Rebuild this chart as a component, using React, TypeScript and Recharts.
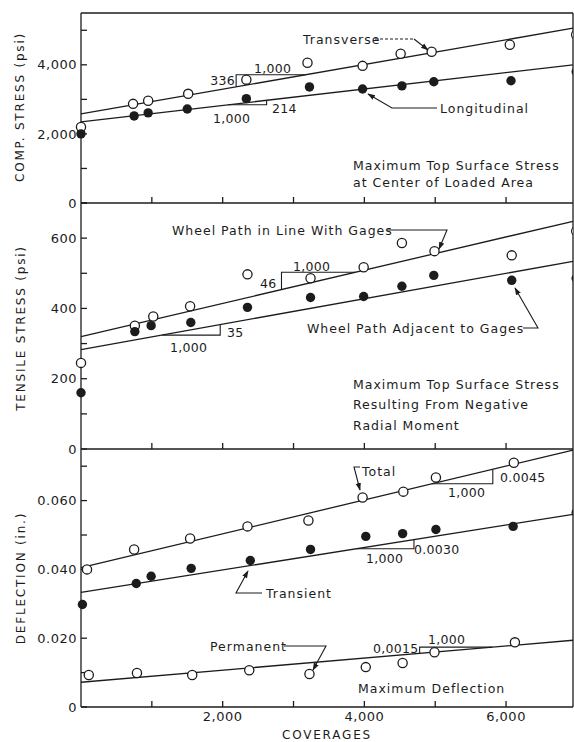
import React from 'react'
import { ComposedChart, Scatter, Line, XAxis, YAxis } from 'recharts'

const INK = '#1c1c1c'
const FONT = '"DejaVu Sans", sans-serif'

// shared x axis (coverages)
const X_TICKS = [1000, 2000, 3000, 4000, 5000, 6000]
const X_TICK_LABELS = ['', '2,000', '', '4,000', '', '6,000']
const EDGE_COVERAGE = [6990]
const FIT_COVERAGE = [0, 6945]

// panel 1 - compressive stress (psi)
const COMP_TICKS = [0, 1000, 2000, 3000, 4000, 5000]
const COMP_TICK_LABELS = ['0', '', '2,000', '', '4,000', '']
const transverseCoverage = [0, 735, 948, 1513, 2334, 3197, 3975, 4512, 4950, 6053]
const transverseStress = [2200, 2870, 2960, 3160, 3570, 4060, 3970, 4320, 4380, 4580]
const longitudinalCoverage = [0, 750, 948, 1500, 2334, 3225, 3975, 4530, 4980, 6070]
const longitudinalStress = [2000, 2520, 2610, 2720, 3020, 3360, 3300, 3390, 3510, 3540]
const transverseEdge = [4870]
const longitudinalEdge = [3800]
const transverseFit = [2580, 5060]
const longitudinalFit = [2350, 4000]
const transverseSlopeX = [2190, 2190, 3168]
const transverseSlopeY = [3362, 3711, 3711]
const longitudinalSlopeX = [2080, 2620, 2620]
const longitudinalSlopeY = [2844, 2844, 2972]

// panel 2 - tensile stress (psi)
const TENS_TICKS = [0, 100, 200, 300, 400, 500, 600, 700]
const TENS_TICK_LABELS = ['0', '', '200', '', '400', '', '600', '']
const inLineCoverage = [0, 760, 1020, 1540, 2350, 3240, 3990, 4530, 4990, 6080]
const inLineStress = [245, 351, 377, 406, 497, 486, 517, 586, 563, 551]
const adjacentCoverage = [0, 760, 990, 1550, 2350, 3240, 3990, 4530, 4980, 6080]
const adjacentStress = [160, 334, 351, 360, 403, 431, 434, 463, 494, 480]
const inLineEdge = [620]
const adjacentEdge = [486]
const inLineFit = [320, 648]
const adjacentFit = [283, 534]
const inLineSlopeX = [2830, 2830, 3875]
const inLineSlopeY = [454, 503, 503]
const adjacentSlopeX = [1146, 1965, 1965]
const adjacentSlopeY = [324, 324, 354]

// panel 3 - deflection (in.)
const DEFL_TICKS = [0, 0.01, 0.02, 0.03, 0.04, 0.05, 0.06, 0.07]
const DEFL_TICK_LABELS = ['0', '', '0.020', '', '0.040', '', '0.060', '']
const totalCoverage = [85, 750, 1540, 2350, 3210, 3975, 4550, 5010, 6110]
const totalDefl = [0.04, 0.0458, 0.049, 0.0525, 0.0542, 0.0609, 0.0626, 0.0667, 0.071]
const transientCoverage = [20, 780, 990, 1555, 2390, 3240, 4020, 4540, 5010, 6100]
const transientDefl = [0.0298, 0.0359, 0.038, 0.0403, 0.0426, 0.0458, 0.0496, 0.0504, 0.0516, 0.0525]
const permanentCoverage = [110, 790, 1570, 2375, 3225, 4020, 4540, 4990, 6125]
const permanentDefl = [0.0093, 0.0099, 0.0093, 0.0107, 0.0096, 0.0116, 0.0128, 0.0159, 0.0188]
const transientEdge = [0.0565]
const totalFit = [0.0405, 0.0747]
const transientFit = [0.0333, 0.056]
const permanentFit = [0.0072, 0.0194]
const totalSlopeX = [4950, 5813, 5813]
const totalSlopeY = [0.0649, 0.0649, 0.0691]
const transientSlopeX = [3890, 4700, 4700]
const transientSlopeY = [0.046, 0.046, 0.0487]
const permanentSlopeX = [4780, 4780, 5806]
const permanentSlopeY = [0.0156, 0.0174, 0.0174]

const zip = (xs: number[], ys: number[]) => xs.map((x, i) => ({ x, y: ys[i] }))

const DOMAIN_X: [number, number] = [0, 6945]
const AXIS = { stroke: INK, strokeWidth: 1.3 }
const TICK = { fill: INK, fontSize: 13, fontFamily: FONT, letterSpacing: 0.5 }

const openDot = (p: any) => <circle cx={p.cx} cy={p.cy} r={4.6} fill="#fff" stroke={INK} strokeWidth={1.3} />
const fullDot = (p: any) => <circle cx={p.cx} cy={p.cy} r={4.7} fill={INK} />

const fit = (ys: number[], key: string) => (
  <Line key={key} data={zip(FIT_COVERAGE, ys)} dataKey="y" dot={false} activeDot={false}
    stroke={INK} strokeWidth={1.3} isAnimationActive={false} />
)
const slope = (xs: number[], ys: number[], key: string) => (
  <Line key={key} data={zip(xs, ys)} dataKey="y" dot={false} activeDot={false}
    stroke={INK} strokeWidth={1.1} isAnimationActive={false} />
)
const pts = (xs: number[], ys: number[], open: boolean, key: string, edge = false) => (
  <Scatter key={key} data={zip(xs, ys)} dataKey="y" xAxisId={edge ? 'edge' : 0}
    shape={open ? openDot : fullDot} isAnimationActive={false} />
)

function Panel(p: {
  top: number, height: number, mt: number, mb: number, xh: number,
  yDomain: [number, number], yTicks: number[], yLabels: string[],
  topAxis?: boolean, xLabels?: string[], children: React.ReactNode
}) {
  return (
    <div style={{ position: 'absolute', left: 0, top: p.top }}>
      <ComposedChart width={574} height={p.height} margin={{ top: p.mt, right: 0, bottom: p.mb, left: 0 }}>
        <XAxis xAxisId={0} dataKey="x" type="number" domain={DOMAIN_X} ticks={X_TICKS} interval={0}
          height={p.xh} tickSize={-6} tickMargin={11} axisLine={AXIS} tickLine={AXIS} tick={TICK}
          tickFormatter={(_: any, i: number) => (p.xLabels ? p.xLabels[i] : '')} />
        <XAxis xAxisId="edge" dataKey="x" type="number" domain={DOMAIN_X} allowDataOverflow hide />
        {p.topAxis && (
          <XAxis xAxisId="top" orientation="top" type="number" domain={DOMAIN_X} allowDataOverflow
            ticks={X_TICKS} interval={0} height={1} tick={false} tickSize={-6} axisLine={AXIS} tickLine={AXIS} />
        )}
        <YAxis yAxisId={0} dataKey="y" type="number" domain={p.yDomain} ticks={p.yTicks} interval={0}
          width={81} tickSize={-6} tickMargin={10} axisLine={AXIS} tickLine={AXIS} tick={TICK}
          tickFormatter={(_: any, i: number) => p.yLabels[i]} />
        <YAxis yAxisId="right" orientation="right" type="number" domain={p.yDomain} allowDataOverflow
          ticks={p.yTicks} interval={0} width={1} tick={false} tickSize={-6} axisLine={AXIS} tickLine={AXIS} />
        {p.children}
      </ComposedChart>
    </div>
  )
}

const words = { fontSize: 12.5, letterSpacing: 1, fill: INK }
const nums = { fontSize: 12.5, letterSpacing: 0.3, fill: INK }
const caps = { fontSize: 12, letterSpacing: 1.8, fill: INK }

function Notes() {
  const T = (x: number, y: number, s: string, st: any = words, anchor = 'start') => (
    <text x={x} y={y} dominantBaseline="central" textAnchor={anchor} style={st}>{s}</text>
  )
  const L = { fill: 'none', stroke: INK, strokeWidth: 1.1 }
  return (
    <svg width={574} height={742} style={{ position: 'absolute', left: 0, top: 0, pointerEvents: 'none', fontFamily: FONT }}>
      <defs>
        <marker id="arr" viewBox="0 0 10 10" refX="9" refY="5" markerWidth="7" markerHeight="7" orient="auto">
          <path d="M0,1.5 L10,5 L0,8.5 z" fill={INK} />
        </marker>
      </defs>
      {/* axis titles */}
      <text transform="translate(20,107) rotate(-90)" textAnchor="middle" dominantBaseline="central" style={caps}>COMP. STRESS (psi)</text>
      <text transform="translate(21,328) rotate(-90)" textAnchor="middle" dominantBaseline="central" style={caps}>TENSILE STRESS (psi)</text>
      <text transform="translate(21,578) rotate(-90)" textAnchor="middle" dominantBaseline="central" style={caps}>DEFLECTION (in.)</text>
      {T(327, 735, 'COVERAGES', caps, 'middle')}

      {/* panel 1 */}
      {T(303, 39, 'Transverse')}
      <path d="M375,39 H414" {...L} strokeDasharray="3 2" />
      <path d="M414,39 L428,50" {...L} markerEnd="url(#arr)" />
      {T(440, 108, 'Longitudinal')}
      <path d="M437,108 H392 L368,94" {...L} markerEnd="url(#arr)" />
      {T(235, 80, '336', nums, 'end')}
      {T(254, 68, '1,000', nums)}
      {T(272, 108, '214', nums)}
      {T(213, 118, '1,000', nums)}
      {T(353, 165, 'Maximum Top Surface Stress')}
      {T(353, 182, 'at Center of Loaded Area')}

      {/* panel 2 */}
      {T(172, 230, 'Wheel Path in Line With Gages')}
      <path d="M387,230 H447 L439,249" {...L} markerEnd="url(#arr)" />
      {T(307, 328, 'Wheel Path Adjacent to Gages')}
      <path d="M523,328 H538 L515,288" {...L} markerEnd="url(#arr)" />
      {T(260, 283, '46', nums)}
      {T(293, 266, '1,000', nums)}
      {T(227, 332, '35', nums)}
      {T(170, 347, '1,000', nums)}
      {T(353, 384, 'Maximum Top Surface Stress')}
      {T(353, 404, 'Resulting From Negative')}
      {T(353, 425, 'Radial Moment')}

      {/* panel 3 */}
      {T(362, 471, 'Total')}
      <path d="M360,467 H354 L360,490" {...L} markerEnd="url(#arr)" />
      {T(448, 492, '1,000', nums)}
      {T(500, 477, '0.0045', nums)}
      {T(414, 549, '0.0030', nums)}
      {T(366, 558, '1,000', nums)}
      {T(266, 593, 'Transient')}
      <path d="M262,593 H236 L248,571" {...L} markerEnd="url(#arr)" />
      {T(210, 646, 'Permanent')}
      <path d="M284,646 H326 L313,670" {...L} markerEnd="url(#arr)" />
      {T(373, 648, '0,0015', nums)}
      {T(428, 639, '1,000', nums)}
      {T(358, 688, 'Maximum Deflection')}
    </svg>
  )
}

export default function App() {
  return (
    <div style={{ position: 'absolute', left: 0, top: 0, width: 574, height: 742, overflow: 'hidden', background: '#fff', fontFamily: FONT }}>
      <Panel top={0} height={216} mt={12} mb={12} xh={1} yDomain={[0, 5500]} yTicks={COMP_TICKS} yLabels={COMP_TICK_LABELS} topAxis>
        {fit(transverseFit, 'tf')}
        {fit(longitudinalFit, 'lf')}
        {slope(transverseSlopeX, transverseSlopeY, 'ts')}
        {slope(longitudinalSlopeX, longitudinalSlopeY, 'ls')}
        {pts(transverseCoverage, transverseStress, true, 'tp')}
        {pts(longitudinalCoverage, longitudinalStress, false, 'lp')}
        {pts(EDGE_COVERAGE, transverseEdge, true, 'te', true)}
        {pts(EDGE_COVERAGE, longitudinalEdge, false, 'le', true)}
      </Panel>
      <Panel top={195} height={266} mt={8} mb={11} xh={1} yDomain={[0, 700]} yTicks={TENS_TICKS} yLabels={TENS_TICK_LABELS}>
        {fit(inLineFit, 'if')}
        {fit(adjacentFit, 'af')}
        {slope(inLineSlopeX, inLineSlopeY, 'is')}
        {slope(adjacentSlopeX, adjacentSlopeY, 'as')}
        {pts(inLineCoverage, inLineStress, true, 'ip')}
        {pts(adjacentCoverage, adjacentStress, false, 'ap')}
        {pts(EDGE_COVERAGE, inLineEdge, true, 'ie', true)}
        {pts(EDGE_COVERAGE, adjacentEdge, false, 'ae', true)}
      </Panel>
      <Panel top={441} height={301} mt={8} mb={0} xh={35} yDomain={[0, 0.075]} yTicks={DEFL_TICKS} yLabels={DEFL_TICK_LABELS} xLabels={X_TICK_LABELS}>
        {fit(totalFit, 'of')}
        {fit(transientFit, 'rf')}
        {fit(permanentFit, 'pf')}
        {slope(totalSlopeX, totalSlopeY, 'os')}
        {slope(transientSlopeX, transientSlopeY, 'rs')}
        {slope(permanentSlopeX, permanentSlopeY, 'ps')}
        {pts(totalCoverage, totalDefl, true, 'op')}
        {pts(transientCoverage, transientDefl, false, 'rp')}
        {pts(permanentCoverage, permanentDefl, true, 'pp')}
        {pts(EDGE_COVERAGE, transientEdge, false, 're', true)}
      </Panel>
      <Notes />
    </div>
  )
}
